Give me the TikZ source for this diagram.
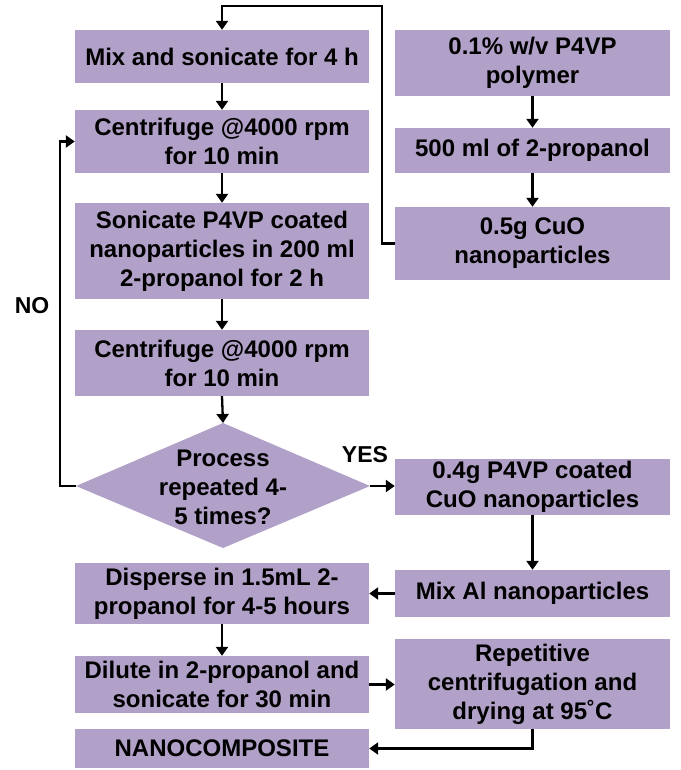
\documentclass[tikz,border=0pt]{standalone}
\usepackage{fontspec}
\setmainfont{Liberation Sans}
\usetikzlibrary{arrows.meta}
\definecolor{boxfill}{HTML}{B1A0C7}
\begin{document}
\begin{tikzpicture}[x=1pt,y=-1pt,
  txt/.style={align=center, inner sep=0pt, font=\bfseries\fontsize{24}{29}\selectfont},
  box/.style={txt, fill=boxfill, draw=none},
  lbox/.style={box, minimum width=294pt, minimum height=#1},
  rbox/.style={box, minimum width=275pt, minimum height=#1},
  lab/.style={inner sep=0pt, font=\bfseries\fontsize{23}{27}\selectfont},
  conn/.style={line width=2.3pt, -{Triangle[length=9pt,width=12pt]}}]
\useasboundingbox (0,0) rectangle (680,770);
% left column
\node[lbox=53pt] (mix) at (222,56.5) {Mix and sonicate for 4 h};
\node[lbox=63pt] (cent1) at (222,141.5) {Centrifuge @4000 rpm\\for 10 min};
\node[lbox=96pt] (son) at (222,251) {Sonicate P4VP coated\\nanoparticles in 200 ml\\2-propanol for 2 h};
\node[lbox=66pt] (cent2) at (222,363) {Centrifuge @4000 rpm\\for 10 min};
\fill[boxfill] (76,486) coordinate (dl) -- (223,423) coordinate (dt) -- (370,486) coordinate (dr) -- (223,548) coordinate (db) -- cycle;
\node[txt] (dec) at (223,487) {Process\\repeated 4-\\5 times?};
\node[lbox=61pt] (disp) at (222,593.5) {Disperse in 1.5mL 2-\\propanol for 4-5 hours};
\node[lbox=57pt] (dil) at (222,684.5) {Dilute in 2-propanol and\\sonicate for 30 min};
\node[lbox=39pt] (nano) at (222,748.5) {NANOCOMPOSITE};
% right column
\node[rbox=66pt] (poly) at (532.5,63) {0.1\% w/v P4VP\\polymer};
\node[rbox=45pt] (prop) at (532.5,150.5) {500 ml of 2-propanol};
\node[rbox=73pt] (cuo) at (532.5,243.5) {0.5g CuO\\nanoparticles};
\node[rbox=56pt] (coat) at (532.5,487) {0.4g P4VP coated\\CuO nanoparticles};
\node[rbox=47pt] (mixal) at (532.5,593.5) {Mix Al nanoparticles};
\node[rbox=90pt] (rep) at (532.5,684) {Repetitive\\centrifugation and\\drying at 95˚C};
% labels
\node[lab] (no) at (32,306) {NO};
\node[lab] (yes) at (365,455) {YES};
% connectors
\coordinate (top) at (300,6);
\draw[conn] (mix) -- (cent1);
\draw[conn] (cent1) -- (son);
\draw[conn] (son) -- (cent2);
\draw[conn] (cent2.south) -- (dt);
\draw[conn] (dr) -- (dr -| coat.west);
\draw[conn] (dl) -- ++(-16,0) |- (cent1.west);
\draw[conn] (cuo.west) -- ++(-13,0) coordinate (c1) -- (c1 |- top) -- (mix.north |- top) -- (mix.north);
\draw[conn] (poly) -- (prop);
\draw[conn] (prop) -- (cuo);
\draw[conn] (coat) -- (mixal);
\draw[conn] (mixal.west) -- (mixal.west -| disp.east);
\draw[conn] (disp) -- (dil);
\draw[conn] (dil.east) -- (dil.east -| rep.west);
\draw[conn] (rep.south) |- (nano.east);
\end{tikzpicture}
\end{document}
